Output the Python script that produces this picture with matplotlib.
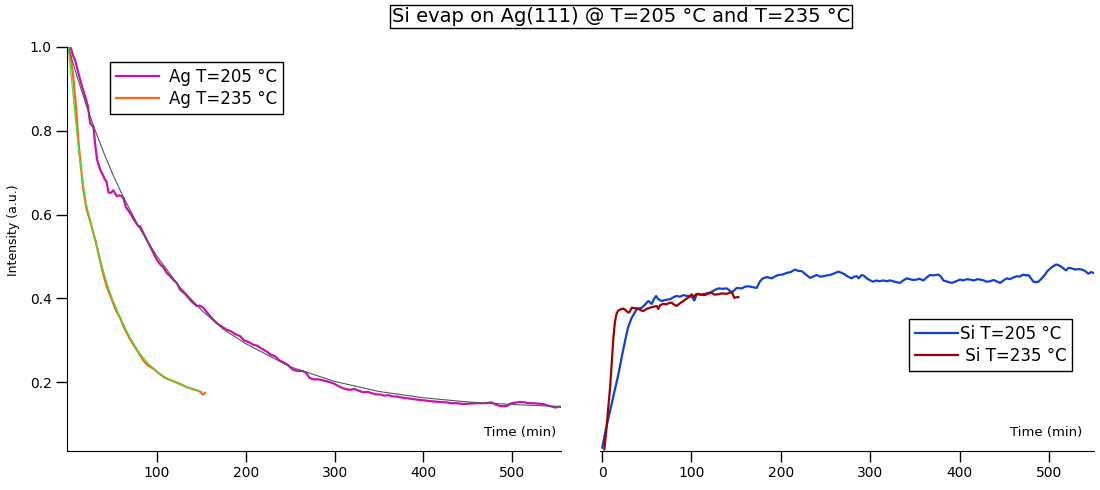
"""Si evaporation on Ag(111): Ag and Si signal intensity vs time at two temperatures."""

import matplotlib
matplotlib.use("Agg")
import matplotlib.pyplot as plt

# Ag signal, T = 205 C (time in min, intensity in a.u.)
ag205_t = [0, 3, 5.8, 7.7, 11.5, 15, 19, 22, 24.8, 27, 28.5, 30.2, 32.5, 36, 39, 41.4, 43,
           45.3, 48, 50.9, 54.6, 57, 60.2, 62, 65, 69.6, 74, 79, 81, 84.6, 88.4, 92.1, 96,
           99.6, 104, 107, 110.9, 114.8, 118, 122.2, 126, 132, 138, 144.6, 148, 152, 157,
           163, 168, 173, 178, 183, 188, 193.5, 198, 203, 208, 213, 218, 223, 228, 233,
           238, 242, 247, 253, 258, 264, 268, 272, 276, 282, 288, 295, 300, 305, 309, 314,
           318, 322, 327, 332, 337, 342, 346, 351, 356, 361, 366, 370, 375, 380, 385, 388,
           395, 400, 407.5, 413, 420, 426, 432, 438, 445, 452, 458, 464, 470, 474, 477, 481,
           485, 488, 492, 495, 498, 502, 509, 514, 519, 524, 530, 535, 539, 545, 548, 550,
           552, 555]
ag205_i = [1.0, 0.997, 0.977, 0.969, 0.937, 0.91, 0.882, 0.86, 0.818, 0.812, 0.809, 0.77,
           0.731, 0.707, 0.695, 0.683, 0.680, 0.653, 0.652, 0.658, 0.644, 0.646, 0.644,
           0.640, 0.618, 0.604, 0.588, 0.572, 0.572, 0.556, 0.540, 0.525, 0.508, 0.493,
           0.480, 0.475, 0.461, 0.453, 0.445, 0.437, 0.421, 0.410, 0.395, 0.382, 0.383,
           0.378, 0.365, 0.350, 0.340, 0.333, 0.326, 0.322, 0.315, 0.310, 0.300, 0.296,
           0.290, 0.287, 0.280, 0.274, 0.266, 0.262, 0.252, 0.248, 0.242, 0.230, 0.227,
           0.227, 0.222, 0.210, 0.207, 0.207, 0.204, 0.200, 0.196, 0.190, 0.186, 0.183,
           0.182, 0.184, 0.180, 0.176, 0.177, 0.174, 0.171, 0.171, 0.168, 0.169, 0.166,
           0.166, 0.164, 0.162, 0.161, 0.160, 0.158, 0.157, 0.155, 0.154, 0.153, 0.152,
           0.150, 0.150, 0.148, 0.149, 0.150, 0.150, 0.150, 0.151, 0.152, 0.147, 0.144,
           0.143, 0.143, 0.144, 0.149, 0.151, 0.153, 0.152, 0.150, 0.150, 0.149, 0.148,
           0.145, 0.142, 0.140, 0.140, 0.142, 0.141]

# exponential fit to the 205 C Ag curve
fit205_t = [0, 10, 20, 30, 40, 50, 60, 80, 100, 125, 150, 175, 200, 250, 300, 350, 400,
            450, 500, 555]
fit205_i = [1.0, 0.929, 0.863, 0.803, 0.748, 0.697, 0.651, 0.569, 0.500, 0.429, 0.372,
            0.326, 0.292, 0.237, 0.202, 0.178, 0.163, 0.153, 0.147, 0.142]

# Ag signal, T = 235 C
ag235_t = [0, 3, 6, 9, 11.3, 14, 17, 20.8, 24, 28.3, 31, 33.9, 38, 43.3, 49, 53, 58.3, 63,
           69.8, 75, 80, 84.8, 90, 96, 103.6, 108, 113, 118, 122.4, 128, 134, 141, 146,
           149, 151, 153, 154]
ag235_i = [1.0, 0.975, 0.92, 0.85, 0.779, 0.72, 0.66, 0.612, 0.59, 0.556, 0.535, 0.509,
           0.47, 0.429, 0.398, 0.375, 0.354, 0.33, 0.302, 0.285, 0.268, 0.251, 0.240,
           0.232, 0.219, 0.212, 0.207, 0.203, 0.199, 0.194, 0.188, 0.183, 0.180, 0.177,
           0.171, 0.172, 0.175]

# fit to the 235 C Ag curve (green line)
fit235_t = [0, 5, 10, 13, 17, 20, 25, 30, 35, 40, 45, 50, 60, 70, 80, 90, 100, 110, 120,
            130, 140, 150]
fit235_i = [1.0, 0.895, 0.79, 0.731, 0.67, 0.628, 0.585, 0.540, 0.500, 0.462, 0.427,
            0.397, 0.347, 0.305, 0.270, 0.245, 0.226, 0.211, 0.200, 0.191, 0.184, 0.178]

# Si signal, T = 205 C
si205_t = [0.3, 4, 9, 14, 18.3, 22, 25.7, 29, 33.2, 38.8, 44.4, 48, 51.8, 55.5, 58, 60.4,
           63, 66.8, 72, 76, 80, 83.5, 87, 91, 95, 98.4, 101, 103.2, 105.9, 110, 115.2,
           119, 122.7, 126, 130, 135, 139.5, 142, 145, 148, 150.6, 156.3, 160, 163.7, 168,
           173, 176.7, 180, 184.2, 189.8, 193, 197.2, 202, 206.6, 211, 215.9, 219, 223.4,
           228, 232.7, 236, 240.2, 244, 247.5, 251, 255, 260, 264.3, 268, 271.8, 275,
           279.3, 282, 284.9, 287, 290.5, 293, 296, 300, 303.4, 307, 310, 314.6, 318, 322,
           325.8, 329, 333.3, 337, 340.8, 344, 348, 352, 355, 359.5, 363, 366.9, 371,
           376.2, 379, 381.8, 386, 391.2, 396, 400.4, 404, 408, 411.6, 416, 420, 422.8,
           427, 430, 434, 438, 441, 445.2, 449, 452.7, 456, 460, 463.9, 467, 471.3, 474,
           476.9, 479, 482.5, 485, 488.1, 491, 495.5, 498, 501.1, 504, 507.8, 511, 514.2,
           517, 519, 521.6, 525, 529, 533, 536.6, 540, 544, 547, 549.6]
si205_i = [0.044, 0.085, 0.132, 0.178, 0.219, 0.26, 0.298, 0.33, 0.354, 0.374, 0.378,
           0.385, 0.394, 0.387, 0.398, 0.406, 0.398, 0.394, 0.397, 0.398, 0.403, 0.406,
           0.404, 0.408, 0.406, 0.406, 0.403, 0.395, 0.410, 0.409, 0.411, 0.413, 0.416,
           0.420, 0.424, 0.423, 0.424, 0.420, 0.413, 0.420, 0.425, 0.424, 0.428, 0.429,
           0.427, 0.425, 0.441, 0.448, 0.451, 0.448, 0.452, 0.456, 0.457, 0.461, 0.463,
           0.469, 0.466, 0.465, 0.457, 0.449, 0.452, 0.456, 0.452, 0.453, 0.455, 0.456,
           0.460, 0.464, 0.461, 0.457, 0.452, 0.448, 0.452, 0.453, 0.448, 0.456, 0.454,
           0.448, 0.443, 0.440, 0.443, 0.441, 0.443, 0.441, 0.443, 0.441, 0.439, 0.437,
           0.443, 0.448, 0.446, 0.444, 0.445, 0.447, 0.443, 0.450, 0.456, 0.455, 0.457,
           0.452, 0.443, 0.440, 0.437, 0.441, 0.445, 0.443, 0.446, 0.445, 0.443, 0.446,
           0.445, 0.443, 0.440, 0.441, 0.444, 0.441, 0.437, 0.443, 0.448, 0.446, 0.450,
           0.453, 0.452, 0.457, 0.455, 0.456, 0.450, 0.440, 0.439, 0.440, 0.446, 0.457,
           0.465, 0.471, 0.476, 0.481, 0.479, 0.475, 0.470, 0.467, 0.473, 0.472, 0.469,
           0.470, 0.469, 0.466, 0.459, 0.463, 0.461]

# Si signal, T = 235 C
si235_t = [2.6, 5, 7, 9, 11, 12.7, 14, 15.3, 16.5, 18.3, 21, 23.8, 26.5, 29.4, 31, 33.2,
           36, 40.6, 43, 46.2, 50, 53.7, 57, 61.2, 63, 65, 68.6, 72, 75, 78, 80, 83.5, 87,
           91, 95, 98, 100.3, 103, 105, 107.7, 111, 115.2, 119, 122.7, 126, 130, 134,
           139.5, 142, 145, 148, 150, 152.5]
si235_i = [0.040, 0.09, 0.14, 0.187, 0.25, 0.306, 0.335, 0.354, 0.365, 0.371, 0.374,
           0.376, 0.372, 0.366, 0.368, 0.378, 0.377, 0.376, 0.372, 0.370, 0.375, 0.378,
           0.380, 0.382, 0.375, 0.384, 0.387, 0.386, 0.389, 0.390, 0.386, 0.382, 0.388,
           0.394, 0.400, 0.404, 0.410, 0.403, 0.410, 0.411, 0.409, 0.408, 0.412, 0.413,
           0.409, 0.410, 0.412, 0.411, 0.413, 0.416, 0.401, 0.403, 0.403]

MAGENTA = "#cc10b0"
ORANGE = "#ff6414"
LIME = "#3ae83a"
GREY = "#555555"
BLUE = "#1040d8"
DARKRED = "#a00000"


def style_bottom_only(ax):
    for side in ("top", "right"):
        ax.spines[side].set_visible(False)
    ax.tick_params(direction="out", length=8, width=1, labelsize=10, pad=3)


fig = plt.figure(figsize=(11, 4.9), dpi=100)
ax_ag = fig.add_axes([0.0609, 0.0796, 0.4491, 0.8245])
ax_si = fig.add_axes([0.5455, 0.0796, 0.4491, 0.8245])

# left panel: Ag decay
ax_ag.plot(ag205_t, ag205_i, color=MAGENTA, lw=1.6, label="Ag T=205 °C")
ax_ag.plot(ag235_t, ag235_i, color=ORANGE, lw=1.6, label="Ag T=235 °C")
ax_ag.plot(fit205_t, fit205_i, color=GREY, lw=0.8)
ax_ag.plot(fit235_t, fit235_i, color=LIME, lw=0.9)
ax_ag.set_xlim(-1.4, 555)
ax_ag.set_ylim(0.036, 1.0)
ax_ag.set_xticks([100, 200, 300, 400, 500])
ax_ag.set_yticks([0.2, 0.4, 0.6, 0.8, 1.0])
ax_ag.set_yticklabels(["0.2", "0.4", "0.6", "0.8", "1.0"])
style_bottom_only(ax_ag)
ax_ag.text(0.99, 0.045, "Time (min)", transform=ax_ag.transAxes,
           ha="right", va="center", fontsize=9.5)

# right panel: Si uptake
ax_si.plot(si205_t, si205_i, color=BLUE, lw=1.6, label="Si T=205 °C")
ax_si.plot(si235_t, si235_i, color=DARKRED, lw=1.6, label=" Si T=235 °C")
ax_si.set_xlim(-2.2, 550.3)
ax_si.set_ylim(0.036, 1.0)
ax_si.set_xticks([0, 100, 200, 300, 400, 500])
style_bottom_only(ax_si)
ax_si.spines["left"].set_visible(False)
ax_si.tick_params(axis="y", left=False, labelleft=False)
ax_si.text(0.976, 0.045, "Time (min)", transform=ax_si.transAxes,
           ha="right", va="center", fontsize=9.5)

leg_kw = dict(loc="upper left", borderaxespad=0, fancybox=False, framealpha=1,
              edgecolor="black", fontsize=12, handlelength=2.6, borderpad=0.35,
              labelspacing=0.25)
leg1 = ax_ag.legend(bbox_to_anchor=(0.1, 0.8735), bbox_transform=fig.transFigure,
                    handletextpad=0.6, **leg_kw)
leg2 = ax_si.legend(bbox_to_anchor=(0.8264, 0.349), bbox_transform=fig.transFigure,
                    handletextpad=0.1, **leg_kw)
for leg in (leg1, leg2):
    leg.get_frame().set_linewidth(1.0)

fig.text(0.0127, 0.531, "Intensity (a.u.)", rotation=90, ha="center", va="center",
         fontsize=9)
fig.text(0.5645, 0.967, "Si evap on Ag(111) @ T=205 °C and T=235 °C", ha="center",
         va="center", fontsize=14,
         bbox=dict(boxstyle="square,pad=0.1", facecolor="white", edgecolor="black",
                   linewidth=1))

fig.savefig("out.png", dpi=100)
